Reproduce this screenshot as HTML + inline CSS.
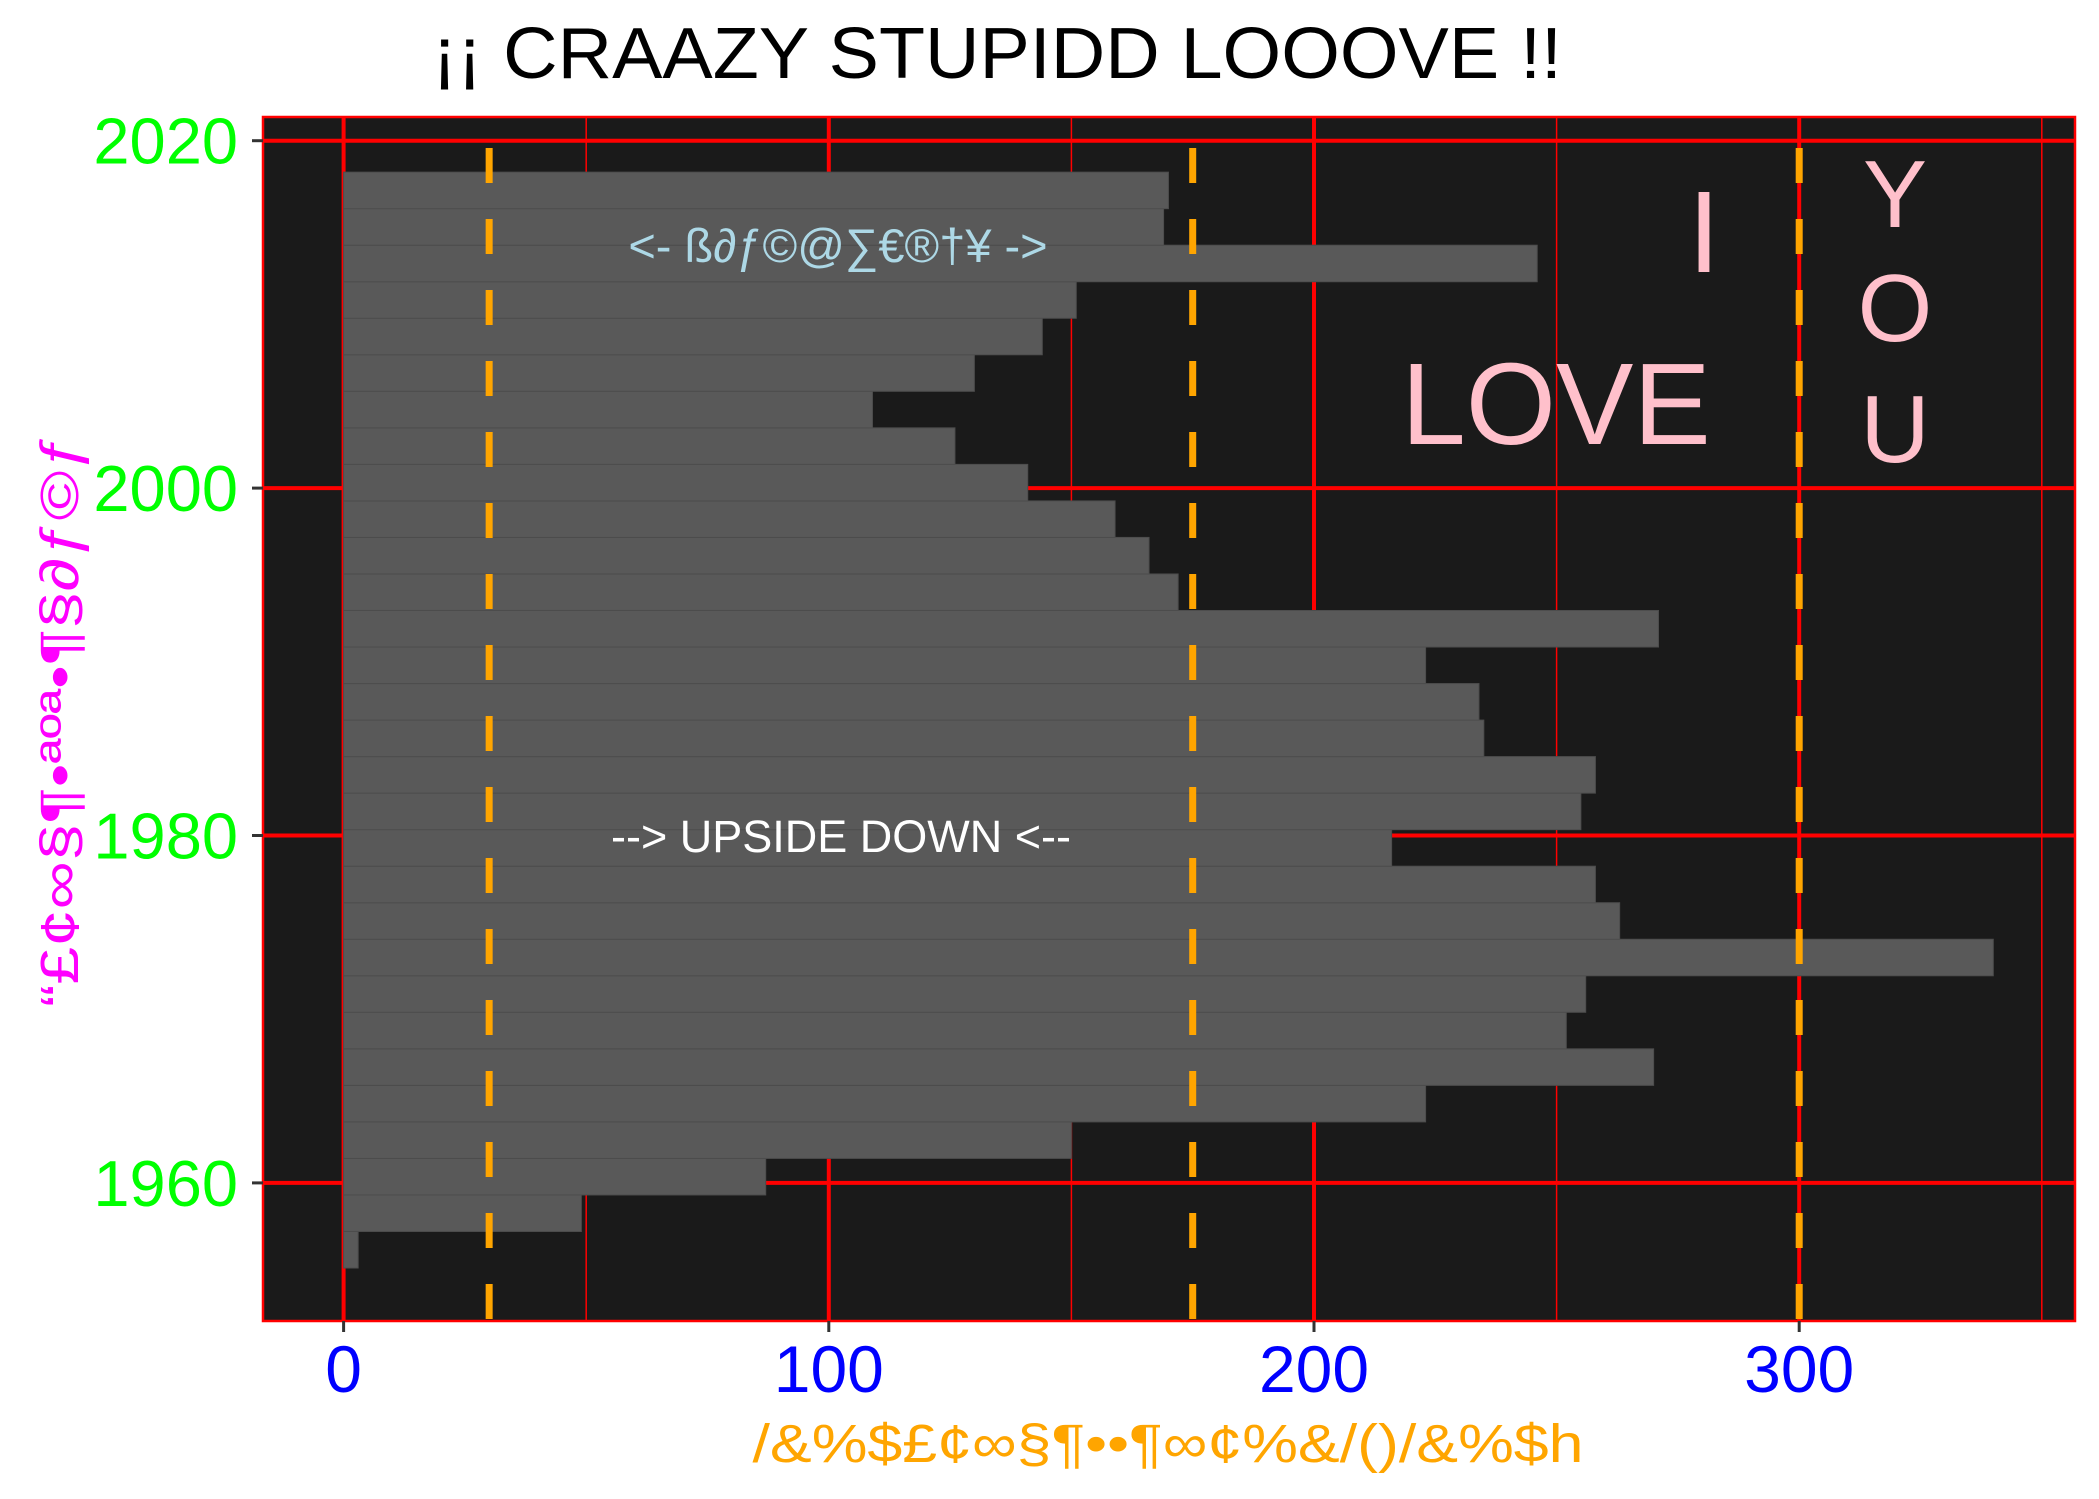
<!DOCTYPE html>
<html><head><meta charset="utf-8"><style>
body{margin:0;background:#fff}
svg{display:block;font-family:"Liberation Sans","DejaVu Sans",sans-serif}
</style></head><body>
<svg id="chart" width="2099" height="1499" viewBox="0 0 2099 1499" xmlns="http://www.w3.org/2000/svg">
<text x="432" y="78" font-size="72" textLength="1130" lengthAdjust="spacingAndGlyphs">¡¡ CRAAZY STUPIDD LOOOVE !!</text>
<rect x="263" y="117" width="1812" height="1204" fill="#1a1a1a"/>
<g id="grid"></g>
<g id="bars"></g>
<g id="vlines"></g>
<rect x="263" y="117" width="1812" height="1204" fill="none" stroke="#ff0000" stroke-width="2.5"/>
<g id="axes"></g>
<text x="838" y="262" font-size="47" fill="#add8e6" text-anchor="middle">&lt;- ß∂ƒ©@∑€®†¥ -&gt;</text>
<text x="841" y="852" font-size="45" fill="#ffffff" text-anchor="middle">--&gt; UPSIDE DOWN &lt;--</text>
<text x="1704" y="272" font-size="116" fill="#ffc0cb" text-anchor="middle">I</text>
<text x="1556" y="444" font-size="116" fill="#ffc0cb" text-anchor="middle">LOVE</text>
<text x="1895" y="227" font-size="96" fill="#ffc0cb" text-anchor="middle">Y</text>
<text x="1895" y="341" font-size="96" fill="#ffc0cb" text-anchor="middle">O</text>
<text x="1895" y="462" font-size="96" fill="#ffc0cb" text-anchor="middle">U</text>
<text x="1168" y="1462" font-size="54" fill="#ffa500" text-anchor="middle" textLength="831" lengthAdjust="spacingAndGlyphs">/&amp;%$£¢∞§¶••¶∞¢%&amp;/()/&amp;%$h</text>
<text transform="translate(78,720) rotate(-90)" font-size="54" fill="#ff00ff" text-anchor="middle" textLength="574" lengthAdjust="spacingAndGlyphs">“£¢∞§¶•ªºª•¶§∂ƒ©ƒ</text>
</svg>
<script>
// histogram bins, bottom (earliest) to top
const binStart = 1955.1;
const binWidth = 2.103;
const counts = [3,49,87,150,223,270,252,256,340,263,258,216,255,258,235,234,223,271,172,166,159,141,126,109,130,144,151,246,169,170];
const vlineValues = [30,175,300];
const xTicks = [0,100,200,300];
const xMinor = [50,150,250,350];
const yTicks = [1960,1980,2000,2020];

const NS = "http://www.w3.org/2000/svg";
const P = {l:263,r:2075,t:117,b:1321};
const xs = v => 343.6 + v*4.852;
const ys = v => 140.7 + (2020 - v)*17.37;
function mk(tag, attrs, parent){const e=document.createElementNS(NS,tag);for(const k in attrs)e.setAttribute(k,attrs[k]);parent.appendChild(e);return e;}

const grid=document.getElementById('grid');
xMinor.forEach(v=>{const l=mk('line',{x1:xs(v),x2:xs(v),y1:P.t,y2:P.b,stroke:'#ff0000','stroke-width':1.5},grid);

});
xTicks.forEach(v=>{const l=mk('line',{x1:xs(v),x2:xs(v),y1:P.t,y2:P.b,stroke:'#ff0000','stroke-width':4},grid);

});
yTicks.forEach(v=>{const l=mk('line',{x1:P.l,x2:P.r,y1:ys(v),y2:ys(v),stroke:'#ff0000','stroke-width':4},grid);

});

const bars=document.getElementById('bars');
counts.forEach((c,i)=>{
  const y0=binStart+i*binWidth, y1=y0+binWidth;
  const r=mk('rect',{x:xs(0),y:ys(y1),width:xs(c)-xs(0),height:ys(y0)-ys(y1),fill:'#595959',stroke:'#4d4d4d','stroke-width':1},bars);
  
  
});

const vl=document.getElementById('vlines');
vlineValues.forEach(v=>{const l=mk('line',{x1:xs(v),x2:xs(v),y1:P.t,y2:P.b,stroke:'#ffa500','stroke-width':7,'stroke-dasharray':'35 36','stroke-dashoffset':40},vl);

});

const ax=document.getElementById('axes');
xTicks.forEach(v=>{
  const t=mk('line',{x1:xs(v),x2:xs(v),y1:P.b,y2:P.b+11,stroke:'#333','stroke-width':3},ax);
  
  
  const s=mk('text',{x:xs(v),y:1392,'font-size':66,fill:'#0000ff','text-anchor':'middle'},ax);
  s.textContent=v;
  
  
});
yTicks.forEach(v=>{
  const t=mk('line',{x1:P.l-11,x2:P.l,y1:ys(v),y2:ys(v),stroke:'#333','stroke-width':3},ax);
  
  
  const s=mk('text',{x:238,y:ys(v)+23,'font-size':65,fill:'#00ff00','text-anchor':'end'},ax);
  s.textContent=v;
  
  
});
</script>
</body></html>
